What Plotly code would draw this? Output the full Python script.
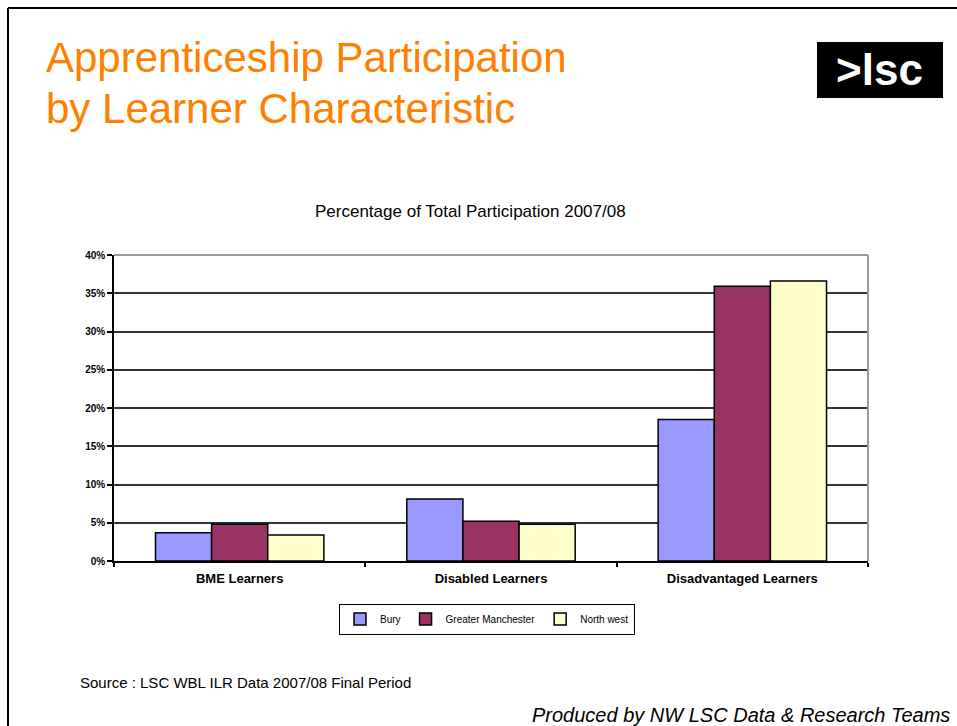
import plotly.graph_objects as go

categories = ["BME Learners", "Disabled Learners", "Disadvantaged Learners"]
series_names = ["Bury", "Greater Manchester", "North west"]
bury = [3.7, 8.1, 18.5]
greater_manchester = [4.8, 5.2, 35.9]
north_west = [3.4, 4.8, 36.6]
y_ticks = [0, 5, 10, 15, 20, 25, 30, 35, 40]
y_tick_labels = [f"{v}%" for v in y_ticks]

colors = ["#9999FF", "#993366", "#FFFFCC"]
W, H = 957, 726
L, R, T, B = 114, 868, 255, 561
PW, PH = R - L, B - T


def xp(px):
    return (px - L) / PW


def yp(py):
    return (B - py) / PH


fig = go.Figure()
for name, vals, col in zip(series_names, [bury, greater_manchester, north_west], colors):
    fig.add_trace(go.Bar(
        x=categories, y=vals, name=name,
        marker=dict(color=col, line=dict(color="#000000", width=1.5)),
    ))

FONT = "Liberation Sans, Arial, sans-serif"

fig.update_layout(
    width=W, height=H,
    margin=dict(l=L, r=W - R, t=T, b=H - B, pad=0),
    paper_bgcolor="white", plot_bgcolor="white",
    barmode="group", bargap=0.33, bargroupgap=0,
    font=dict(family=FONT, color="#000000"),
    showlegend=True,
    legend=dict(
        orientation="h", x=xp(487), y=yp(619), xanchor="center", yanchor="middle",
        bordercolor="#000000", borderwidth=1, bgcolor="white",
        font=dict(size=10, family=FONT, color="#000"),
        itemwidth=30, traceorder="normal",
    ),
    xaxis=dict(
        type="category", showline=True, linecolor="#000", linewidth=1.5,
        ticks="outside", ticklen=4, tickcolor="#000", tickwidth=1.5,
        tickson="boundaries", showgrid=False, ticklabelstandoff=5,
        tickfont=dict(size=13, family=FONT, color="#000", weight="bold"),
    ),
    yaxis=dict(
        range=[0, 40], tickvals=y_ticks, ticktext=y_tick_labels,
        showline=True, linecolor="#000", linewidth=1.5,
        ticks="outside", ticklen=5, tickcolor="#000", tickwidth=1.5,
        showgrid=True, gridcolor="#333333", gridwidth=1.5, zeroline=False,
        tickfont=dict(size=10, family=FONT, color="#000", weight="bold"),
    ),
)

shapes = [
    dict(type="line", xref="paper", yref="paper", x0=0, x1=1, y0=1, y1=1,
         line=dict(color="#999999", width=2), layer="above"),
    dict(type="line", xref="paper", yref="paper", x0=1, x1=1, y0=0, y1=1,
         line=dict(color="#999999", width=2), layer="above"),
    dict(type="line", xref="paper", yref="paper", x0=xp(8), x1=xp(8), y0=yp(8), y1=yp(H + 5),
         line=dict(color="#000", width=2)),
    dict(type="line", xref="paper", yref="paper", x0=xp(8), x1=xp(W + 5), y0=yp(8), y1=yp(8),
         line=dict(color="#000", width=2)),
    dict(type="rect", xref="paper", yref="paper", x0=xp(817), x1=xp(943), y0=yp(42), y1=yp(98),
         fillcolor="#000", line=dict(color="#000", width=0)),
]
fig.update_layout(shapes=shapes)

ann = [
    dict(text="Apprenticeship Participation", x=xp(44), y=yp(57), xanchor="left", yanchor="middle",
         font=dict(size=42, color="#FF8000", family=FONT)),
    dict(text="by Learner Characteristic", x=xp(44), y=yp(109), xanchor="left", yanchor="middle",
         font=dict(size=42, color="#FF8000", family=FONT)),
    dict(text="<b>&gt;lsc</b>", x=xp(879), y=yp(70), xanchor="center", yanchor="middle",
         font=dict(size=44, color="#FFFFFF", family=FONT)),
    dict(text="Percentage of Total Participation 2007/08", x=xp(470), y=yp(211),
         xanchor="center", yanchor="middle", font=dict(size=17, color="#000", family=FONT)),
    dict(text="Source : LSC WBL ILR Data 2007/08 Final Period", x=xp(78), y=yp(682),
         xanchor="left", yanchor="middle", font=dict(size=15, color="#000", family=FONT)),
    dict(text="<i>Produced by NW LSC Data &amp; Research Teams</i>", x=xp(952), y=yp(715),
         xanchor="right", yanchor="middle", font=dict(size=20, color="#000", family=FONT)),
]
for a in ann:
    a.update(xref="paper", yref="paper", showarrow=False)
fig.update_layout(annotations=ann)

fig.write_html("out.html", config={"displayModeBar": False},
               post_script="document.body.style.margin='0';document.body.style.padding='0';")
